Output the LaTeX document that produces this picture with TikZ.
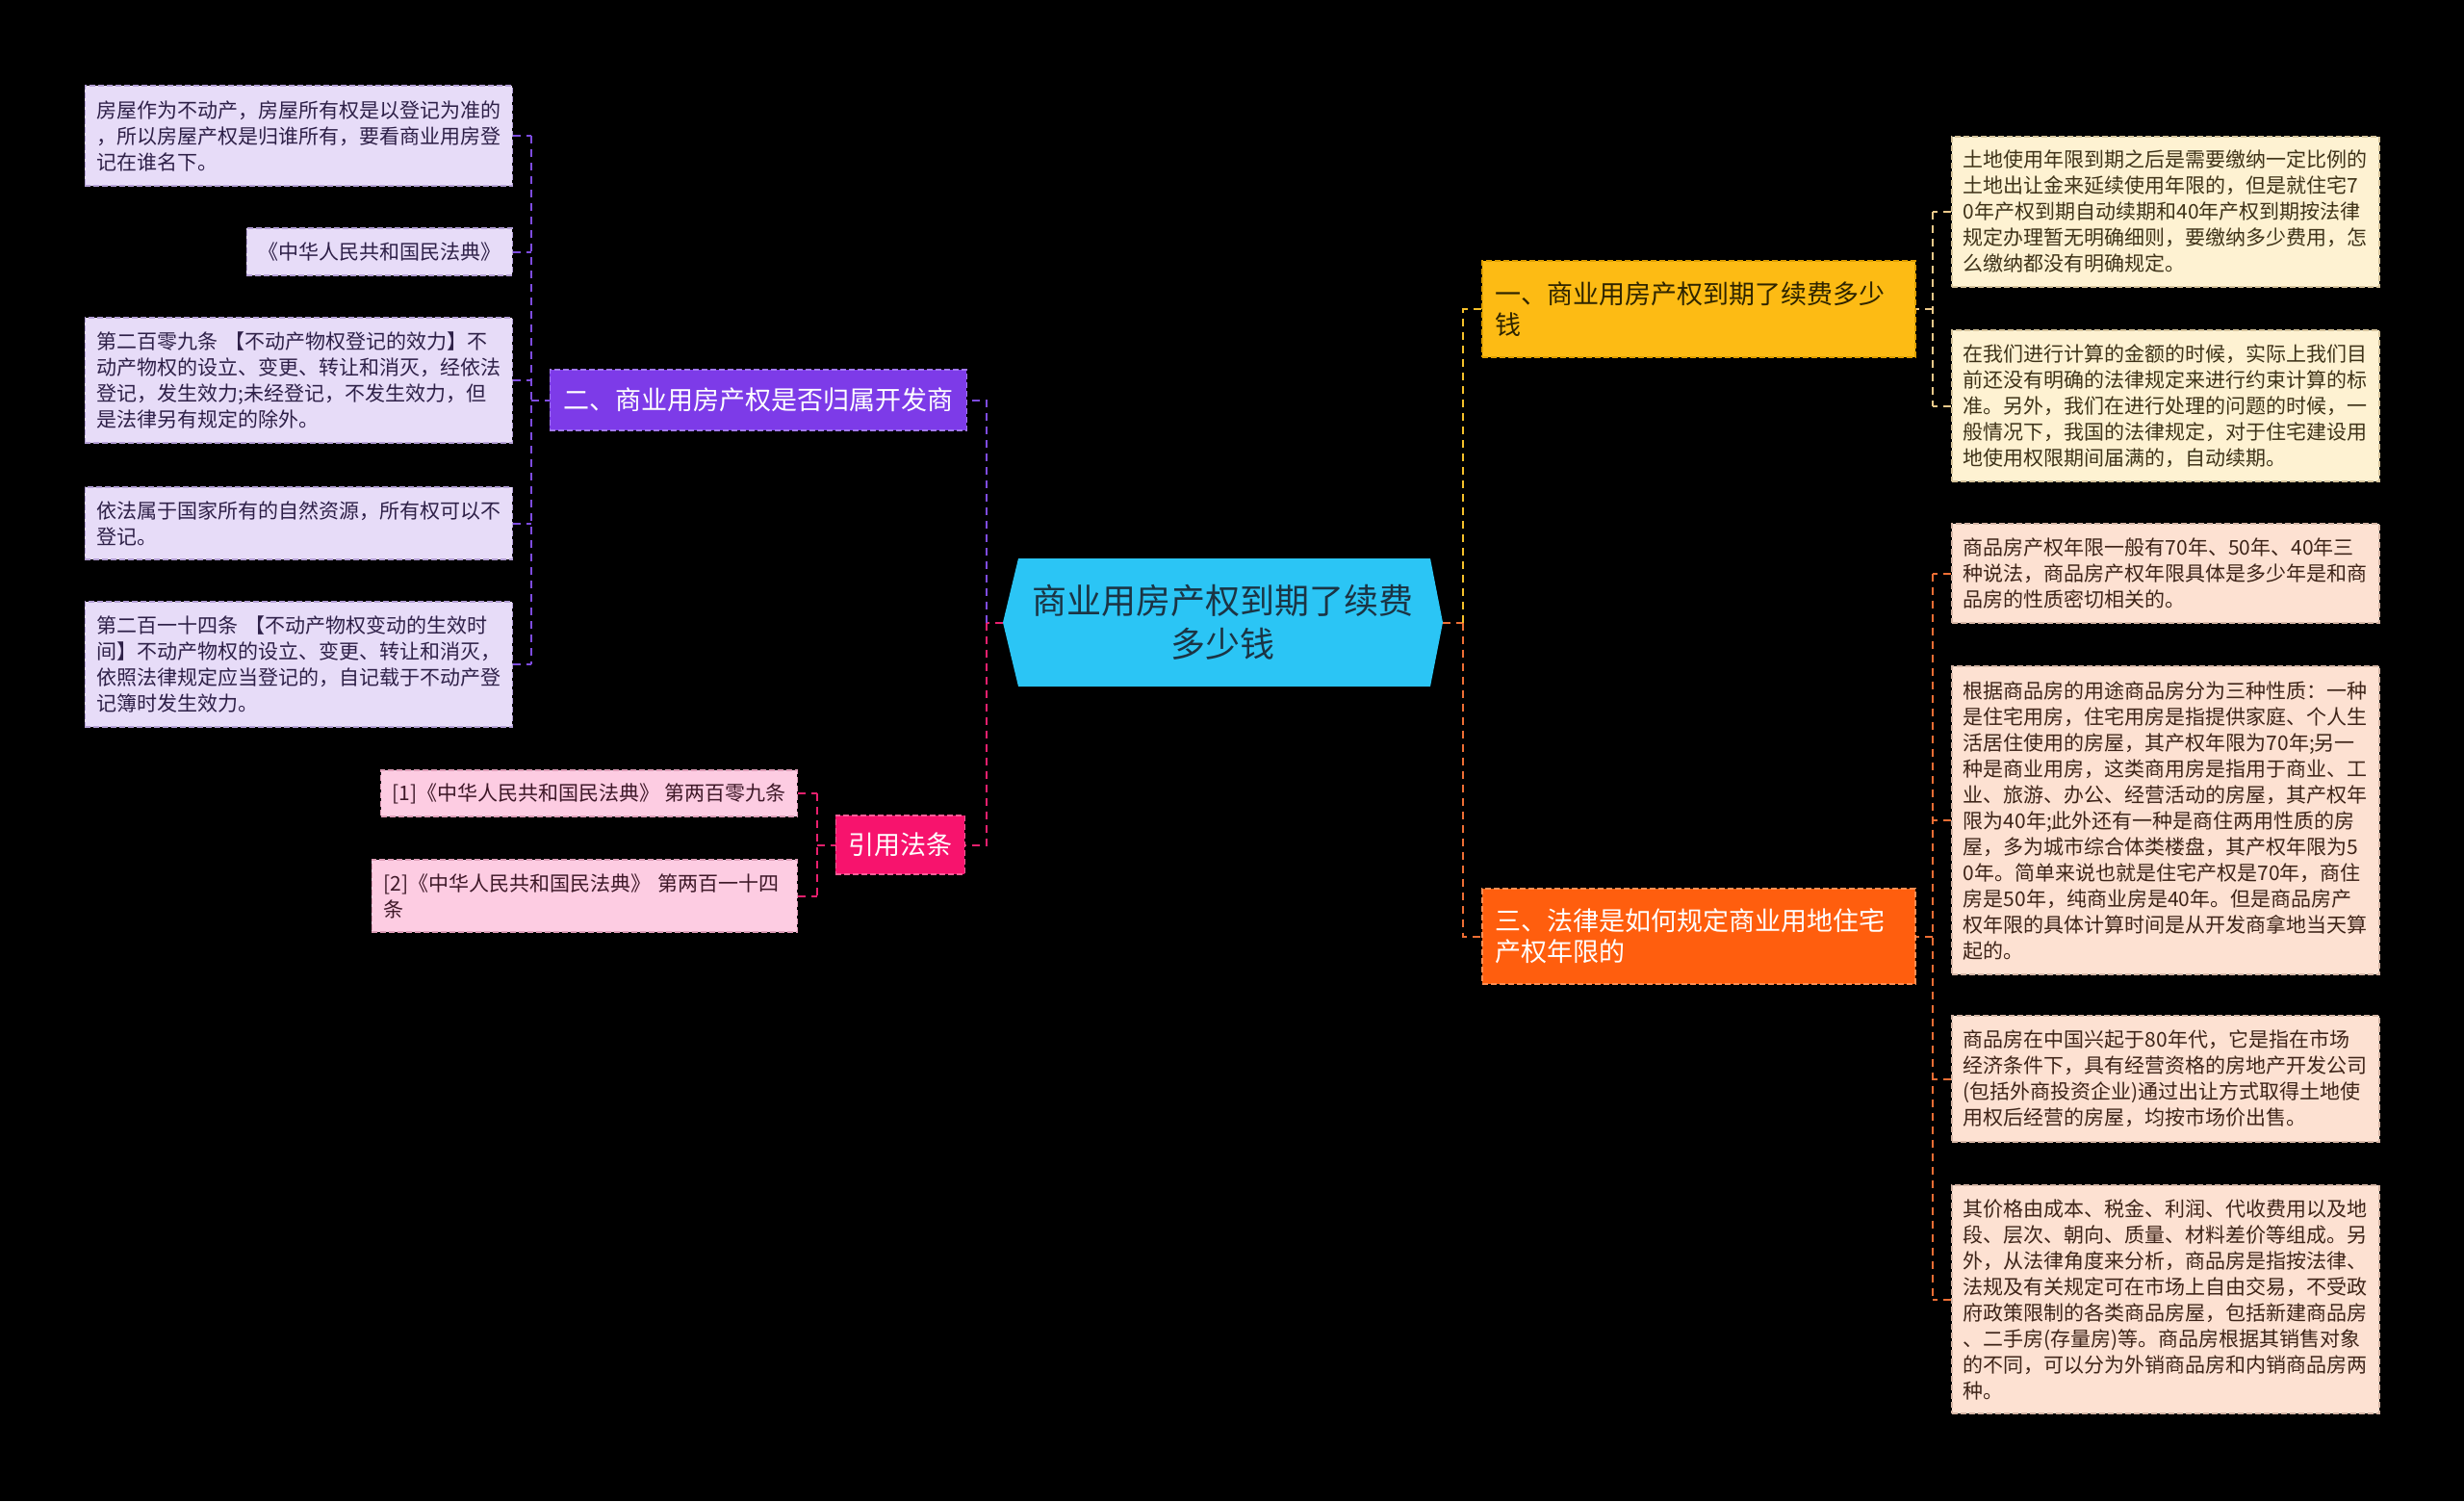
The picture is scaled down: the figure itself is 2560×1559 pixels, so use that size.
\documentclass[tikz,border=0pt]{standalone}
\usepackage{fontspec}
\setmainfont{Noto Sans CJK SC}
\usepackage{tikz}
\usetikzlibrary{positioning}
\definecolor{rootfill}{HTML}{2BC5F5}
\definecolor{roottext}{HTML}{1B3444}
\definecolor{yfill}{HTML}{FDBB14}
\definecolor{yline}{HTML}{E0A000}
\definecolor{ytext}{HTML}{2E2400}
\definecolor{pfill}{HTML}{7D3BE8}
\definecolor{pline}{HTML}{A277F5}
\definecolor{ofill}{HTML}{FF5E0E}
\definecolor{oline}{HTML}{FF8E52}
\definecolor{kfill}{HTML}{F7136D}
\definecolor{kline}{HTML}{FF5E98}
\definecolor{lpfill}{HTML}{E7DCF8}
\definecolor{lpline}{HTML}{B4A0D6}
\definecolor{lptext}{HTML}{2E2048}
\definecolor{lyfill}{HTML}{FEF2D2}
\definecolor{lyline}{HTML}{D6C49C}
\definecolor{lytext}{HTML}{3E3218}
\definecolor{lofill}{HTML}{FDE1D2}
\definecolor{loline}{HTML}{D6B6A6}
\definecolor{lotext}{HTML}{3E2418}
\definecolor{lkfill}{HTML}{FDCCE2}
\definecolor{lkline}{HTML}{DE9EB8}
\definecolor{lktext}{HTML}{3E1828}
\definecolor{plink}{HTML}{7E4CE0}
\definecolor{klink}{HTML}{E8206E}
\definecolor{ymain}{HTML}{F5C02A}
\definecolor{ylink}{HTML}{EBC98A}
\definecolor{olink}{HTML}{EE6E34}
\tikzstyle{link} = [line width=2pt, dash pattern=on 8pt off 6pt]
\tikzstyle{box} = [rectangle, draw, dash pattern=on 6pt off 3pt, line width=1.5pt, inner xsep=12pt, inner ysep=0pt, align=left, font=\fontsize{21}{27}\selectfont]
\tikzstyle{leafp} = [box, fill=lpfill, draw=lpline, text=lptext, anchor=east]
\tikzstyle{leafy} = [box, fill=lyfill, draw=lyline, text=lytext, anchor=west, text width=420pt]
\tikzstyle{leafo} = [box, fill=lofill, draw=loline, text=lotext, anchor=west, text width=420pt]
\tikzstyle{leafk} = [box, fill=lkfill, draw=lkline, text=lktext, anchor=east]
\tikzstyle{branch} = [rectangle, draw, dash pattern=on 6pt off 3pt, line width=1.5pt, inner xsep=14pt, inner ysep=0pt, align=left, font=\fontsize{27}{32}\selectfont]
\tikzstyle{roottxt} = [rectangle, minimum width=457pt, minimum height=133pt, align=center, text=roottext, font=\fontsize{36}{45}\selectfont]

\begin{document}
\begin{tikzpicture}[x=1pt,y=-1pt]

\fill[black] (0,0) rectangle (2560,1559);
\useasboundingbox (0,0) rectangle (2560,1559);

\fill[rootfill] (1042,646.5) -- (1058,580) -- (1486,580) -- (1499,646.5) -- (1486,713) -- (1058,713) -- cycle;
\node[roottxt] (root) at (1270.5,646.5) {商业用房产权到期了续费\\多少钱};

\node[branch, fill=yfill, draw=yline, text=ytext, text width=422pt, minimum height=100pt, anchor=west] (b1) at (1539,321) {一、商业用房产权到期了续费多少\\钱};
\node[branch, fill=pfill, draw=pline, text=white, minimum height=63pt, anchor=east] (b2) at (1005,415.5) {二、商业用房产权是否归属开发商};
\node[branch, fill=ofill, draw=oline, text=white, text width=422pt, minimum height=99pt, anchor=west] (b3) at (1539,972.5) {三、法律是如何规定商业用地住宅\\产权年限的};
\node[branch, fill=kfill, draw=kline, text=white, inner xsep=13pt, minimum height=61pt, anchor=east] (b4) at (1003,877.5) {引用法条};

\node[leafp, text width=420pt, minimum height=104pt] (l1) at (533,141) {房屋作为不动产，房屋所有权是以登记为准的\\，所以房屋产权是归谁所有，要看商业用房登\\记在谁名下。};
\node[leafp, minimum height=49pt] (l2) at (533,261.5) {《中华人民共和国民法典》};
\node[leafp, text width=420pt, minimum height=130pt] (l3) at (533,395) {第二百零九条~【不动产物权登记的效力】不\\动产物权的设立、变更、转让和消灭，经依法\\登记，发生效力;未经登记，不发生效力，但\\是法律另有规定的除外。};
\node[leafp, text width=420pt, minimum height=75pt] (l4) at (533,543.5) {依法属于国家所有的自然资源，所有权可以不\\登记。};
\node[leafp, text width=420pt, minimum height=130pt] (l5) at (533,690) {第二百一十四条~【不动产物权变动的生效时\\间】不动产物权的设立、变更、转让和消灭，\\依照法律规定应当登记的，自记载于不动产登\\记簿时发生效力。};

\node[leafk, minimum height=48pt] (p1) at (829,824) {[1]《中华人民共和国民法典》 第两百零九条};
\node[leafk, text width=418pt, minimum height=75pt] (p2) at (829,930.5) {[2]《中华人民共和国民法典》 第两百一十四\\条};

\node[leafy, minimum height=156pt] (r1) at (2027,220) {土地使用年限到期之后是需要缴纳一定比例的\\土地出让金来延续使用年限的，但是就住宅7\\0年产权到期自动续期和40年产权到期按法律\\规定办理暂无明确细则，要缴纳多少费用，怎\\么缴纳都没有明确规定。};
\node[leafy, minimum height=157pt] (r2) at (2027,421.5) {在我们进行计算的金额的时候，实际上我们目\\前还没有明确的法律规定来进行约束计算的标\\准。另外，我们在进行处理的问题的时候，一\\般情况下，我国的法律规定，对于住宅建设用\\地使用权限期间届满的，自动续期。};
\node[leafo, minimum height=103pt] (r3) at (2027,595.5) {商品房产权年限一般有70年、50年、40年三\\种说法，商品房产权年限具体是多少年是和商\\品房的性质密切相关的。};
\node[leafo, minimum height=320pt] (r4) at (2027,852) {根据商品房的用途商品房分为三种性质：一种\\是住宅用房，住宅用房是指提供家庭、个人生\\活居住使用的房屋，其产权年限为70年;另一\\种是商业用房，这类商用房是指用于商业、工\\业、旅游、办公、经营活动的房屋，其产权年\\限为40年;此外还有一种是商住两用性质的房\\屋，多为城市综合体类楼盘，其产权年限为5\\0年。简单来说也就是住宅产权是70年，商住\\房是50年，纯商业房是40年。但是商品房产\\权年限的具体计算时间是从开发商拿地当天算\\起的。};
\node[leafo, minimum height=131pt] (r5) at (2027,1120.5) {商品房在中国兴起于80年代，它是指在市场\\经济条件下，具有经营资格的房地产开发公司\\(包括外商投资企业)通过出让方式取得土地使\\用权后经营的房屋，均按市场价出售。};
\node[leafo, minimum height=237pt] (r6) at (2027,1349.5) {其价格由成本、税金、利润、代收费用以及地\\段、层次、朝向、质量、材料差价等组成。另\\外，从法律角度来分析，商品房是指按法律、\\法规及有关规定可在市场上自由交易，不受政\\府政策限制的各类商品房屋，包括新建商品房\\、二手房(存量房)等。商品房根据其销售对象\\的不同，可以分为外销商品房和内销商品房两\\种。};

\coordinate (lbus) at (1025,646.5);
\coordinate (rbus) at (1520,646.5);
\draw[link, klink] (root.west) -- (lbus);
\draw[link, plink] (lbus) |- (b2.east);
\draw[link, klink] (lbus) |- (b4.east);
\draw[link, olink] (root.east) -- (rbus);
\draw[link, ymain] (rbus) |- (b1.west);
\draw[link, olink] (rbus) |- (b3.west);

\coordinate (b2bus) at (552,415.5);
\coordinate (b4bus) at (849,877.5);
\coordinate (b1bus) at (2008,321);
\coordinate (b3bus) at (2008,972.5);
\draw[link, plink] (l1.east -| b2bus) -- (l5.east -| b2bus);
\draw[link, plink] (b2bus) -- (b2.west);
\foreach \n in {l1,l2,l3,l4,l5}
\draw[link, plink] (\n.east) -- (\n.east -| b2bus);
\draw[link, klink] (p1.east -| b4bus) -- (p2.east -| b4bus);
\draw[link, klink] (b4bus) -- (b4.west);
\foreach \n in {p1,p2}
\draw[link, klink] (\n.east) -- (\n.east -| b4bus);
\draw[link, ylink] (r1.west -| b1bus) -- (r2.west -| b1bus);
\draw[link, ylink] (b1bus) -- (b1.east);
\foreach \n in {r1,r2}
\draw[link, ylink] (\n.west) -- (\n.west -| b1bus);
\draw[link, olink] (r3.west -| b3bus) -- (r6.west -| b3bus);
\draw[link, olink] (b3bus) -- (b3.east);
\foreach \n in {r3,r4,r5,r6}
\draw[link, olink] (\n.west) -- (\n.west -| b3bus);

\end{tikzpicture}
\end{document}
